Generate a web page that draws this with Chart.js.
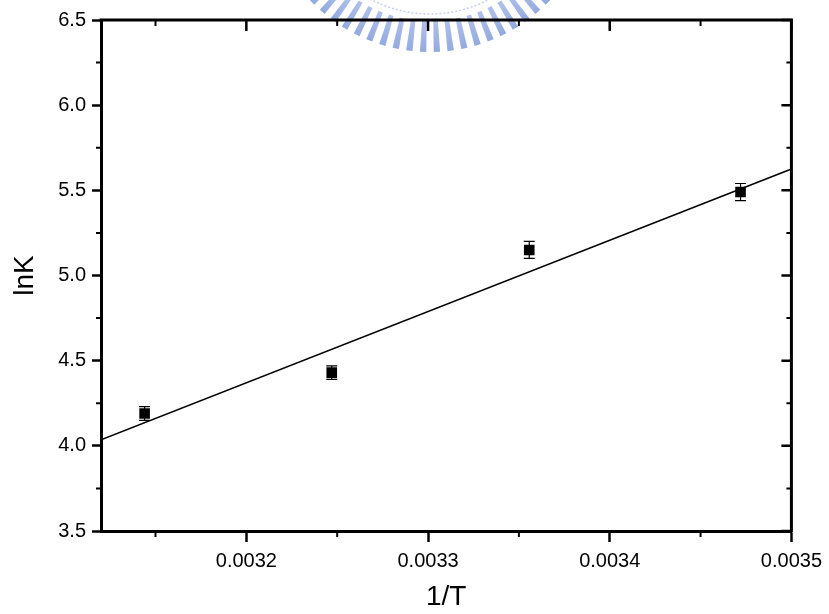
<!DOCTYPE html>
<html><head><meta charset="utf-8">
<script src="https://cdn.jsdelivr.net/npm/chart.js@4.4.1/dist/chart.umd.min.js"></script>
<style>html,body{margin:0;padding:0;background:#fff}#wrap{width:829px;height:614px}</style>
</head><body><div id="wrap"><canvas id="c" width="829" height="614"></canvas></div>
<script>
// ---- data ----
const invT = [0.003144, 0.003247, 0.0033557, 0.003472];
const lnK = [4.19, 4.43, 5.15, 5.49];
const lnKErr = [0.04, 0.04, 0.05, 0.05];
const fitX = [0.00312, 0.0035];
const fitY = [4.035, 5.625];
const xMajorTicks = [0.0032, 0.0033, 0.0034, 0.0035];
const xTickLabels = ['0.0032', '0.0033', '0.0034', '0.0035'];
const xMinorTicks = [0.00315, 0.00325, 0.00335, 0.00345];
const yMajorTicks = [3.5, 4.0, 4.5, 5.0, 5.5, 6.0, 6.5];
const yTickLabels = ['3.5', '4.0', '4.5', '5.0', '5.5', '6.0', '6.5'];
const yMinorTicks = [3.75, 4.25, 4.75, 5.25, 5.75, 6.25];

const FONT = "'Liberation Sans', Arial, sans-serif";

const watermark = {
  id: 'watermark',
  beforeDraw(chart) {
    const ctx = chart.ctx;
    const cx = 430, cy = -113;
    ctx.save();
    ctx.strokeStyle = 'rgba(160,178,228,0.6)';
    ctx.lineWidth = 1.5;
    ctx.setLineDash([2, 2]);
    ctx.beginPath(); ctx.arc(cx, cy, 127, 0, Math.PI); ctx.stroke();
    ctx.setLineDash([]);
    for (let a = 30; a <= 150; a += 4.8) {
      const rad = a * Math.PI / 180;
      ctx.save();
      ctx.translate(cx, cy);
      ctx.rotate(rad - Math.PI / 2);
      const g = ctx.createLinearGradient(0, 134, 0, 165);
      g.addColorStop(0, 'rgba(150,172,228,0.75)');
      g.addColorStop(1, 'rgba(120,148,215,0.8)');
      ctx.fillStyle = g;
      ctx.beginPath();
      ctx.moveTo(-2.3, 134); ctx.lineTo(2.3, 134); ctx.lineTo(3.2, 165); ctx.lineTo(-3.2, 165);
      ctx.closePath();
      ctx.fill();
      ctx.restore();
    }
    ctx.restore();
  }
};

const frame = {
  id: 'frame',
  afterDraw(chart) {
    const ctx = chart.ctx;
    const a = chart.chartArea;
    const xs = chart.scales.x, ys = chart.scales.y;
    ctx.save();
    ctx.strokeStyle = '#000';
    ctx.lineCap = 'butt';
    ctx.lineWidth = 3;
    ctx.beginPath();
    ctx.moveTo(a.left - 1.5, a.top); ctx.lineTo(a.right, a.top);
    ctx.moveTo(a.right, a.top - 1.5); ctx.lineTo(a.right, a.bottom + 1.5);
    ctx.stroke();
    ctx.lineWidth = 2.5;
    ctx.beginPath();
    xMajorTicks.forEach(v => { const p = xs.getPixelForValue(v); ctx.moveTo(p, a.top); ctx.lineTo(p, a.top + 11); });
    yMajorTicks.forEach(v => { const p = ys.getPixelForValue(v); ctx.moveTo(a.right, p); ctx.lineTo(a.right - 10, p); });
    ctx.stroke();
    ctx.lineWidth = 2;
    ctx.beginPath();
    xMinorTicks.forEach(v => {
      const p = xs.getPixelForValue(v);
      ctx.moveTo(p, a.bottom); ctx.lineTo(p, a.bottom + 6);
      ctx.moveTo(p, a.top); ctx.lineTo(p, a.top + 6);
    });
    yMinorTicks.forEach(v => {
      const p = ys.getPixelForValue(v);
      ctx.moveTo(a.left, p); ctx.lineTo(a.left - 5, p);
      ctx.moveTo(a.right, p); ctx.lineTo(a.right - 5, p);
    });
    ctx.stroke();
    ctx.restore();
  }
};

const errorBars = {
  id: 'errorBars',
  beforeDatasetsDraw(chart) {
    const ctx = chart.ctx;
    const xs = chart.scales.x, ys = chart.scales.y;
    ctx.save();
    ctx.strokeStyle = '#000';
    ctx.lineWidth = 1.2;
    ctx.beginPath();
    invT.forEach((xv, i) => {
      const px = xs.getPixelForValue(xv);
      const top = ys.getPixelForValue(lnK[i] + lnKErr[i]);
      const bot = ys.getPixelForValue(lnK[i] - lnKErr[i]);
      ctx.moveTo(px, top); ctx.lineTo(px, bot);
      ctx.moveTo(px - 5.5, top); ctx.lineTo(px + 5.5, top);
      ctx.moveTo(px - 5.5, bot); ctx.lineTo(px + 5.5, bot);
    });
    ctx.stroke();
    ctx.restore();
  }
};

new Chart(document.getElementById('c'), {
  type: 'scatter',
  data: {
    datasets: [
      {
        label: 'lnK',
        data: invT.map((x, i) => ({ x: x, y: lnK[i] })),
        pointStyle: 'rect',
        pointRadius: 7.5,
        backgroundColor: '#000',
        borderColor: '#000',
        borderWidth: 0
      },
      {
        label: 'fit',
        data: fitX.map((x, i) => ({ x: x, y: fitY[i] })),
        showLine: true,
        pointRadius: 0,
        borderColor: '#000',
        borderWidth: 1.5,
        fill: false
      }
    ]
  },
  options: {
    responsive: false,
    devicePixelRatio: 1,
    animation: false,
    layout: { padding: { top: 20, right: 33, left: 0, bottom: 0 } },
    plugins: { legend: { display: false }, tooltip: { enabled: false } },
    scales: {
      x: {
        type: 'linear',
        min: 0.00312,
        max: 0.0035,
        afterBuildTicks: s => { s.ticks = xMajorTicks.map(v => ({ value: v })); },
        afterFit: s => { s.height = 83; },
        ticks: {
          callback: (v, i) => xTickLabels[i],
          font: { family: FONT, size: 20 },
          color: '#000',
          padding: 7,
          maxRotation: 0,
          autoSkip: false
        },
        grid: { display: true, drawOnChartArea: false, drawTicks: true, tickLength: 11, tickWidth: 2.5, tickColor: '#000', color: '#000' },
        border: { display: true, color: '#000', width: 3 },
        title: { display: true, text: '1/T', font: { family: FONT, size: 28 }, color: '#000', padding: { top: 0, bottom: 0 } }
      },
      y: {
        type: 'linear',
        min: 3.5,
        max: 6.5,
        afterBuildTicks: s => { s.ticks = yMajorTicks.map(v => ({ value: v })); },
        afterFit: s => { s.width = 101; },
        ticks: {
          callback: (v, i) => yTickLabels[i],
          font: { family: FONT, size: 20 },
          color: '#000',
          padding: 6,
          autoSkip: false
        },
        grid: { display: true, drawOnChartArea: false, drawTicks: true, tickLength: 9, tickWidth: 2.5, tickColor: '#000', color: '#000' },
        border: { display: true, color: '#000', width: 3 },
        title: { display: true, text: 'lnK', font: { family: FONT, size: 28 }, color: '#000', padding: { top: 8, bottom: 0 } }
      }
    }
  },
  plugins: [watermark, errorBars, frame]
});
</script>
</body></html>
